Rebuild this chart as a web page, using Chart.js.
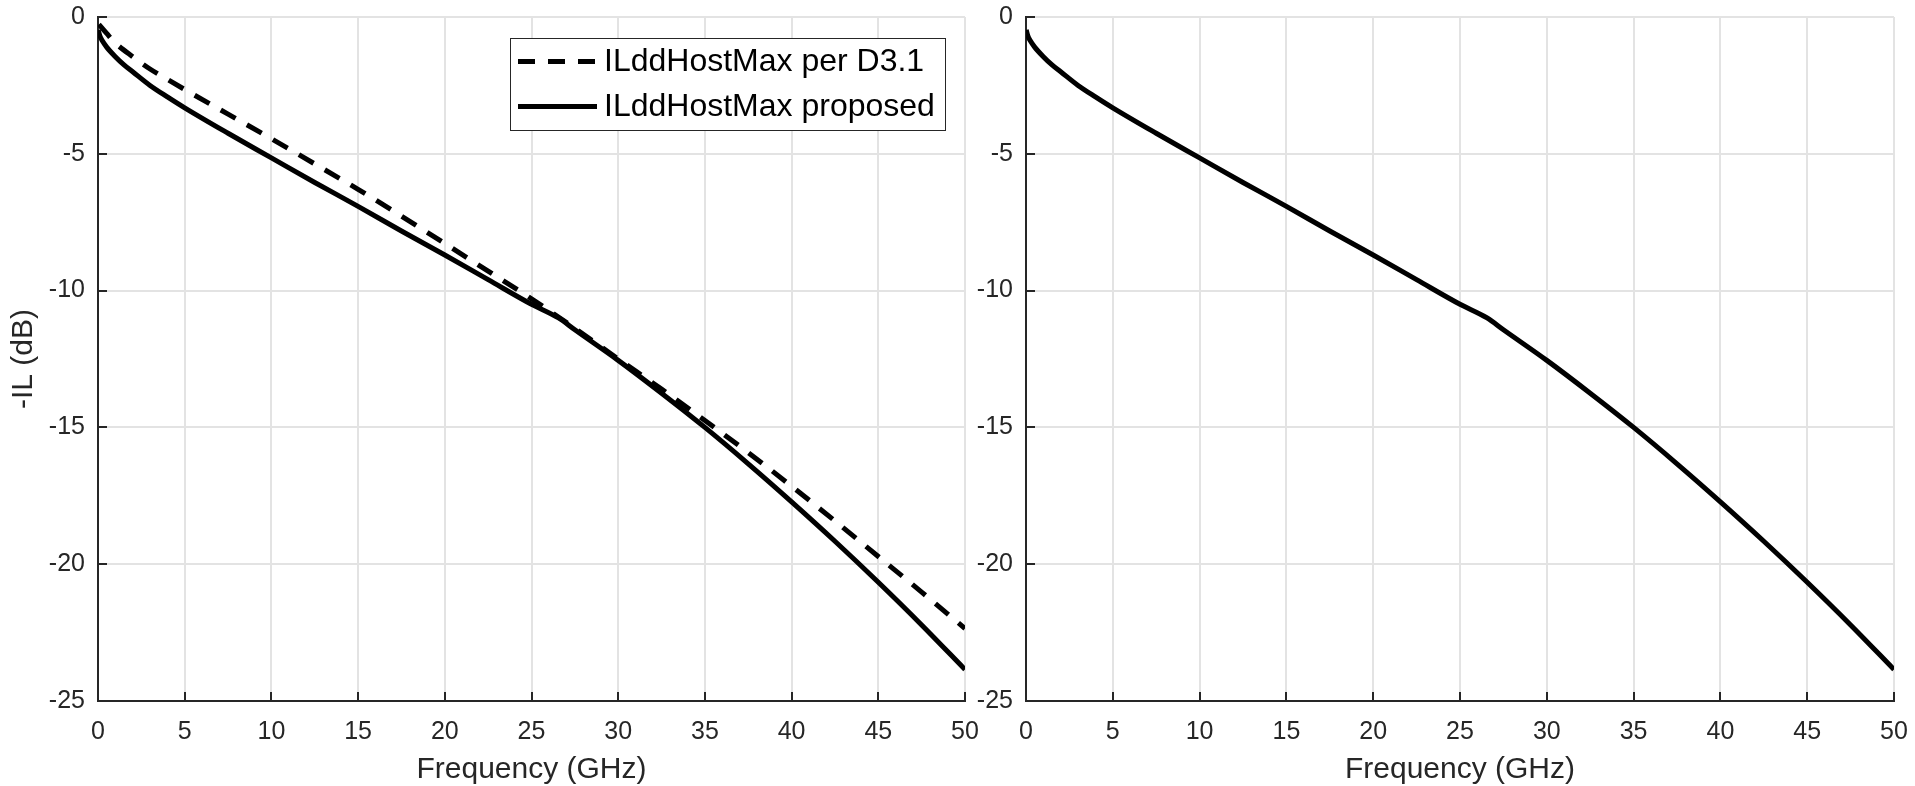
<!DOCTYPE html>
<html>
<head>
<meta charset="utf-8">
<script src="https://cdn.jsdelivr.net/npm/chart.js@4.4.1/dist/chart.umd.min.js"></script>
<style>
html, body { margin: 0; padding: 0; background: #fff; }
body { width: 1915px; height: 786px; position: relative; overflow: hidden; }
.wrap { position: absolute; top: 0; height: 786px; }
#izq { left: 0; width: 985px; }
#der { left: 965px; width: 950px; }
</style>
</head>
<body>
<div class="wrap" id="izq"><canvas id="graficoIzq"></canvas></div>
<div class="wrap" id="der"><canvas id="graficoDer"></canvas></div>
<script>
// Datos
const frecD31 = [0.05, 0.5, 1, 2, 3, 4, 5, 7.5, 10, 12.5, 15, 17.5, 20, 22.5, 25, 27.5, 30, 32.5, 35, 37.5, 40, 42.5, 45, 47.5, 50];
const ilD31 = [-0.27, -0.6, -0.95, -1.45, -1.9, -2.28, -2.65, -3.55, -4.45, -5.37, -6.3, -7.28, -8.28, -9.29, -10.3, -11.38, -12.5, -13.6, -14.75, -15.92, -17.15, -18.42, -19.72, -21.02, -22.35];

const frecProp = [0.01, 0.1, 0.25, 0.5, 1, 1.5, 2, 3, 4, 5, 7.5, 10, 12.5, 15, 17.5, 20, 22.5, 25, 26.56, 27.5, 30, 32.5, 35, 37.5, 40, 42.5, 45, 47.5, 50];
const ilProp = [-0.47, -0.68, -0.87, -1.1, -1.45, -1.75, -2.0, -2.5, -2.92, -3.32, -4.25, -5.15, -6.05, -6.92, -7.82, -8.7, -9.6, -10.5, -11.0, -11.43, -12.55, -13.75, -15.0, -16.33, -17.72, -19.16, -20.66, -22.22, -23.85];

const etiquetas = ['ILddHostMax per D3.1', 'ILddHostMax proposed'];
const tituloX = 'Frequency (GHz)';
const tituloY = '-IL (dB)';

const fuente = "'Liberation Sans', Arial, sans-serif";
const colorTexto = '#262626';

function puntos(xs, ys) {
    return xs.map((x, i) => ({ x: x, y: ys[i] }));
}

// Marcas de eje hacia dentro (estilo Matlab)
const marcasInternas = {
    id: 'marcasInternas',
    afterDraw(chart) {
        const ctx = chart.ctx;
        const a = chart.chartArea;
        const sx = chart.scales.x, sy = chart.scales.y;
        ctx.save();
        ctx.strokeStyle = colorTexto;
        ctx.lineWidth = 2;
        ctx.beginPath();
        sx.ticks.forEach(t => {
            const px = Math.round(sx.getPixelForValue(t.value));
            ctx.moveTo(px, a.bottom);
            ctx.lineTo(px, a.bottom - 9);
        });
        sy.ticks.forEach(t => {
            const py = Math.round(sy.getPixelForValue(t.value));
            ctx.moveTo(a.left, py);
            ctx.lineTo(a.left + 9, py);
        });
        ctx.stroke();
        ctx.restore();
    }
};

// Leyenda con recuadro
const leyenda = {
    id: 'leyenda',
    afterDraw(chart, args, opts) {
        if (!opts.mostrar) return;
        const ctx = chart.ctx;
        ctx.save();
        ctx.fillStyle = '#fff';
        ctx.fillRect(opts.x, opts.y, opts.w, opts.h);
        ctx.strokeStyle = colorTexto;
        ctx.lineWidth = 1;
        ctx.strokeRect(opts.x + 0.5, opts.y + 0.5, opts.w, opts.h);
        chart.data.datasets.forEach((ds, i) => {
            const yy = opts.y + 23.5 + i * 45;
            ctx.strokeStyle = ds.borderColor;
            ctx.lineWidth = ds.borderWidth;
            ctx.lineCap = 'butt';
            ctx.setLineDash(ds.borderDash || []);
            ctx.beginPath();
            ctx.moveTo(opts.x + 8, yy);
            ctx.lineTo(opts.x + 87, yy);
            ctx.stroke();
            ctx.setLineDash([]);
            ctx.fillStyle = '#000';
            ctx.font = '32px ' + fuente;
            ctx.textBaseline = 'middle';
            ctx.fillText(ds.label, opts.x + 94, yy + 1);
        });
        ctx.restore();
    }
};

function opciones(anchoY, margenDer, conLeyenda) {
    return {
        responsive: true,
        maintainAspectRatio: false,
        animation: false,
        layout: { padding: { top: 17, right: margenDer, left: 0, bottom: 0 } },
        plugins: {
            legend: { display: false },
            tooltip: { enabled: false },
            leyenda: { mostrar: conLeyenda, x: 510, y: 38, w: 435, h: 92 }
        },
        scales: {
            x: {
                type: 'linear',
                min: 0, max: 50,
                afterFit: s => { s.height = 85; s.paddingLeft = 0; s.paddingRight = 0; },
                ticks: { stepSize: 5, autoSkip: false, maxRotation: 0, padding: 16, color: colorTexto, font: { family: fuente, size: 25 } },
                grid: { color: '#e3e3e3', lineWidth: 2, drawTicks: false },
                border: { display: true, color: colorTexto, width: 2 },
                title: { display: true, text: tituloX, color: colorTexto, font: { family: fuente, size: 30 }, padding: { top: 0, bottom: -2 } }
            },
            y: {
                type: 'linear',
                min: -25, max: 0,
                afterFit: s => { s.width = anchoY; s.paddingTop = 0; s.paddingBottom = 0; },
                ticks: { stepSize: 5, padding: 13, color: colorTexto, font: { family: fuente, size: 25 } },
                grid: { color: '#e3e3e3', lineWidth: 2, drawTicks: false },
                border: { display: true, color: colorTexto, width: 2 },
                title: { display: conLeyenda, text: tituloY, color: colorTexto, font: { family: fuente, size: 30 }, padding: { top: 6, bottom: 0 } }
            }
        }
    };
}

const serieD31 = {
    label: etiquetas[0],
    data: puntos(frecD31, ilD31),
    borderColor: '#000',
    borderWidth: 5,
    borderDash: [17, 13],
    borderCapStyle: 'butt',
    pointRadius: 0,
    cubicInterpolationMode: 'monotone'
};

const serieProp = {
    label: etiquetas[1],
    data: puntos(frecProp, ilProp),
    borderColor: '#000',
    borderWidth: 5,
    pointRadius: 0,
    cubicInterpolationMode: 'monotone'
};

new Chart(document.getElementById('graficoIzq'), {
    type: 'line',
    data: { datasets: [serieD31, serieProp] },
    options: opciones(98, 20, true),
    plugins: [marcasInternas, leyenda]
});

new Chart(document.getElementById('graficoDer'), {
    type: 'line',
    data: { datasets: [Object.assign({}, serieProp, { data: puntos(frecProp, ilProp) })] },
    options: opciones(61, 21, false),
    plugins: [marcasInternas, leyenda]
});
</script>
</body>
</html>
